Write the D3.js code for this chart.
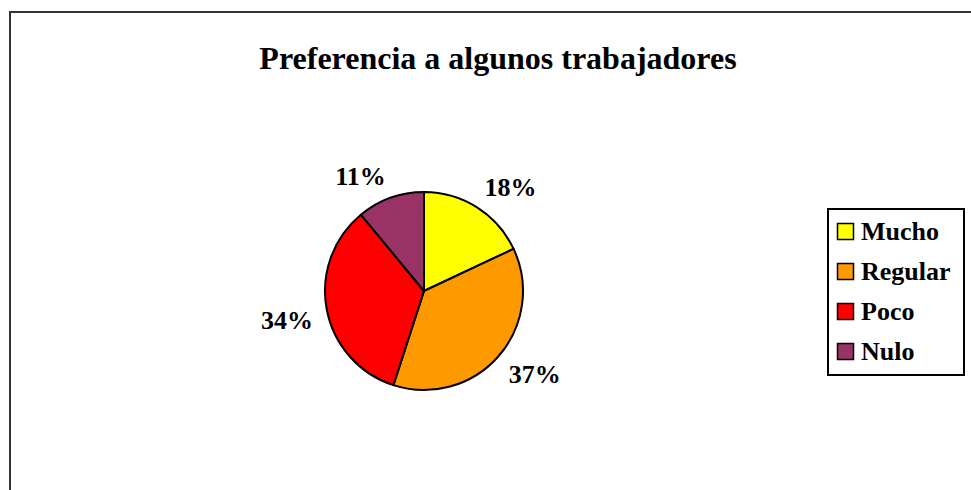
<!DOCTYPE html>
<html>
<head>
<meta charset="utf-8">
<script src="https://cdn.jsdelivr.net/npm/d3@7"></script>
<style>
  html, body { margin: 0; padding: 0; background: #fff; }
  svg { display: block; }
  text { font-family: "Liberation Serif", "Times New Roman", serif; font-weight: bold; fill: #000; }
</style>
</head>
<body>
<div id="chart"></div>
<script>
const title = "Preferencia a algunos trabajadores";
const categories = ["Mucho", "Regular", "Poco", "Nulo"];
const values = [18, 37, 34, 11];
const colors = ["#FFFF00", "#FF9900", "#FF0000", "#993366"];

const width = 971, height = 490;
const cx = 424, cy = 291, radius = 99;

const svg = d3.select("#chart")
  .append("svg")
  .attr("width", width)
  .attr("height", height);

// chart frame (runs off the bottom / right of the picture)
svg.append("rect")
  .attr("x", 10).attr("y", 12)
  .attr("width", 1000).attr("height", 600)
  .attr("fill", "none")
  .attr("stroke", "#333")
  .attr("stroke-width", 2);

svg.append("text")
  .attr("x", 498).attr("y", 69)
  .attr("text-anchor", "middle")
  .style("font-size", "32px")
  .text(title);

const total = d3.sum(values);
const pie = d3.pie().sort(null).value(d => d)(values);
const arc = d3.arc().innerRadius(0).outerRadius(radius);

const g = svg.append("g").attr("transform", `translate(${cx},${cy})`);

g.selectAll("path")
  .data(pie)
  .join("path")
  .attr("d", arc)
  .attr("fill", (d, i) => colors[i])
  .attr("stroke", "#000")
  .attr("stroke-width", 2)
  .attr("stroke-linejoin", "round");

// percent labels: the label box corner nearest the pie sits on a ring
const labelR = 113, capH = 17;
g.selectAll("text.pct")
  .data(pie)
  .join("text")
  .attr("class", "pct")
  .style("font-size", "26px")
  .text(d => Math.round(d.data / total * 100) + "%")
  .each(function (d) {
    const a = (d.startAngle + d.endAngle) / 2;
    const px = labelR * Math.sin(a), py = -labelR * Math.cos(a);
    const w = this.getComputedTextLength();
    const x = Math.sin(a) >= 0 ? px : px - w;
    const y = Math.cos(a) >= 0 ? py : py + capH;
    d3.select(this).attr("x", x).attr("y", y);
  });

// legend
const legend = svg.append("g").attr("transform", "translate(828,209)");
legend.append("rect")
  .attr("width", 136).attr("height", 166)
  .attr("fill", "#fff")
  .attr("stroke", "#000")
  .attr("stroke-width", 2);

const items = legend.selectAll("g.item")
  .data(categories)
  .join("g")
  .attr("class", "item")
  .attr("transform", (d, i) => `translate(0,${31 + i * 40})`);

items.append("rect")
  .attr("x", 9.5).attr("y", -16.5)
  .attr("width", 16).attr("height", 16)
  .attr("fill", (d, i) => colors[i])
  .attr("stroke", "#000")
  .attr("stroke-width", 1.5);

items.append("text")
  .attr("x", 33).attr("y", 0)
  .style("font-size", "26px")
  .text(d => d);
</script>
</body>
</html>
